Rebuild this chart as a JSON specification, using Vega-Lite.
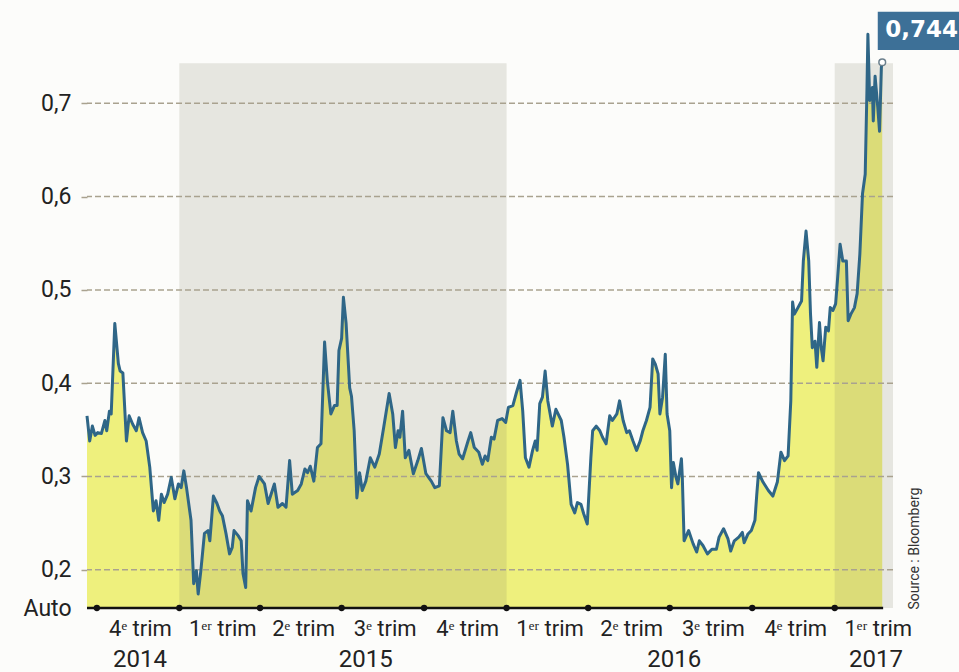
{
  "$schema": "https://vega.github.io/schema/vega-lite/v6.json",
  "width": 806,
  "height": 598,
  "autosize": {"type": "none"},
  "padding": {"left": 87, "top": 10, "right": 66, "bottom": 64},
  "background": "#fcfcfa",
  "config": {"view": {"stroke": null}, "font": "Roboto"},
  "datasets": {
    "series": [
      {"date": "2014-09-20", "value": 0.365}, {"date": "2014-09-23", "value": 0.338}, {"date": "2014-09-26", "value": 0.354}, {"date": "2014-09-29", "value": 0.344},
      {"date": "2014-10-02", "value": 0.347}, {"date": "2014-10-06", "value": 0.346}, {"date": "2014-10-10", "value": 0.360}, {"date": "2014-10-12", "value": 0.349},
      {"date": "2014-10-15", "value": 0.370}, {"date": "2014-10-17", "value": 0.367}, {"date": "2014-10-21", "value": 0.464}, {"date": "2014-10-25", "value": 0.421},
      {"date": "2014-10-27", "value": 0.413}, {"date": "2014-10-30", "value": 0.411}, {"date": "2014-11-03", "value": 0.338}, {"date": "2014-11-06", "value": 0.365},
      {"date": "2014-11-10", "value": 0.356}, {"date": "2014-11-14", "value": 0.349}, {"date": "2014-11-17", "value": 0.363}, {"date": "2014-11-21", "value": 0.347},
      {"date": "2014-11-25", "value": 0.338}, {"date": "2014-11-29", "value": 0.310}, {"date": "2014-12-03", "value": 0.263}, {"date": "2014-12-06", "value": 0.274},
      {"date": "2014-12-09", "value": 0.253}, {"date": "2014-12-12", "value": 0.281}, {"date": "2014-12-15", "value": 0.272}, {"date": "2014-12-19", "value": 0.281},
      {"date": "2014-12-23", "value": 0.299}, {"date": "2014-12-27", "value": 0.276}, {"date": "2014-12-31", "value": 0.292}, {"date": "2015-01-03", "value": 0.288},
      {"date": "2015-01-06", "value": 0.306}, {"date": "2015-01-09", "value": 0.288}, {"date": "2015-01-14", "value": 0.253}, {"date": "2015-01-17", "value": 0.185},
      {"date": "2015-01-20", "value": 0.199}, {"date": "2015-01-22", "value": 0.174}, {"date": "2015-01-25", "value": 0.199}, {"date": "2015-01-29", "value": 0.239},
      {"date": "2015-02-02", "value": 0.242}, {"date": "2015-02-04", "value": 0.231}, {"date": "2015-02-08", "value": 0.279}, {"date": "2015-02-12", "value": 0.271},
      {"date": "2015-02-15", "value": 0.263}, {"date": "2015-02-18", "value": 0.258}, {"date": "2015-02-22", "value": 0.239}, {"date": "2015-02-26", "value": 0.217},
      {"date": "2015-03-01", "value": 0.224}, {"date": "2015-03-03", "value": 0.242}, {"date": "2015-03-08", "value": 0.236}, {"date": "2015-03-11", "value": 0.231},
      {"date": "2015-03-13", "value": 0.196}, {"date": "2015-03-16", "value": 0.181}, {"date": "2015-03-18", "value": 0.274}, {"date": "2015-03-22", "value": 0.263},
      {"date": "2015-03-27", "value": 0.288}, {"date": "2015-03-31", "value": 0.300}, {"date": "2015-04-06", "value": 0.292}, {"date": "2015-04-10", "value": 0.271},
      {"date": "2015-04-17", "value": 0.292}, {"date": "2015-04-21", "value": 0.267}, {"date": "2015-04-26", "value": 0.271}, {"date": "2015-04-30", "value": 0.267},
      {"date": "2015-05-04", "value": 0.317}, {"date": "2015-05-07", "value": 0.281}, {"date": "2015-05-13", "value": 0.285}, {"date": "2015-05-17", "value": 0.292},
      {"date": "2015-05-21", "value": 0.308}, {"date": "2015-05-24", "value": 0.304}, {"date": "2015-05-27", "value": 0.311}, {"date": "2015-05-31", "value": 0.295},
      {"date": "2015-06-04", "value": 0.331}, {"date": "2015-06-08", "value": 0.335}, {"date": "2015-06-12", "value": 0.444}, {"date": "2015-06-15", "value": 0.403},
      {"date": "2015-06-19", "value": 0.367}, {"date": "2015-06-23", "value": 0.376}, {"date": "2015-06-26", "value": 0.376}, {"date": "2015-06-28", "value": 0.435},
      {"date": "2015-07-01", "value": 0.448}, {"date": "2015-07-03", "value": 0.492}, {"date": "2015-07-06", "value": 0.464}, {"date": "2015-07-10", "value": 0.395},
      {"date": "2015-07-12", "value": 0.386}, {"date": "2015-07-15", "value": 0.349}, {"date": "2015-07-18", "value": 0.277}, {"date": "2015-07-21", "value": 0.304},
      {"date": "2015-07-24", "value": 0.285}, {"date": "2015-07-28", "value": 0.295}, {"date": "2015-08-02", "value": 0.320}, {"date": "2015-08-07", "value": 0.310},
      {"date": "2015-08-12", "value": 0.324}, {"date": "2015-08-17", "value": 0.353}, {"date": "2015-08-23", "value": 0.389}, {"date": "2015-08-27", "value": 0.367},
      {"date": "2015-08-30", "value": 0.331}, {"date": "2015-09-02", "value": 0.349}, {"date": "2015-09-04", "value": 0.342}, {"date": "2015-09-07", "value": 0.370},
      {"date": "2015-09-10", "value": 0.320}, {"date": "2015-09-14", "value": 0.328}, {"date": "2015-09-19", "value": 0.303}, {"date": "2015-09-24", "value": 0.317},
      {"date": "2015-09-28", "value": 0.330}, {"date": "2015-10-03", "value": 0.303}, {"date": "2015-10-09", "value": 0.295}, {"date": "2015-10-13", "value": 0.288},
      {"date": "2015-10-18", "value": 0.290}, {"date": "2015-10-22", "value": 0.363}, {"date": "2015-10-26", "value": 0.349}, {"date": "2015-10-30", "value": 0.347},
      {"date": "2015-11-02", "value": 0.370}, {"date": "2015-11-06", "value": 0.338}, {"date": "2015-11-09", "value": 0.324}, {"date": "2015-11-13", "value": 0.319},
      {"date": "2015-11-19", "value": 0.338}, {"date": "2015-11-22", "value": 0.347}, {"date": "2015-11-26", "value": 0.331}, {"date": "2015-12-01", "value": 0.326},
      {"date": "2015-12-05", "value": 0.313}, {"date": "2015-12-08", "value": 0.322}, {"date": "2015-12-11", "value": 0.317}, {"date": "2015-12-15", "value": 0.342},
      {"date": "2015-12-18", "value": 0.340}, {"date": "2015-12-22", "value": 0.360}, {"date": "2015-12-27", "value": 0.362}, {"date": "2015-12-31", "value": 0.358},
      {"date": "2016-01-03", "value": 0.374}, {"date": "2016-01-08", "value": 0.376}, {"date": "2016-01-12", "value": 0.390}, {"date": "2016-01-16", "value": 0.403},
      {"date": "2016-01-19", "value": 0.370}, {"date": "2016-01-22", "value": 0.320}, {"date": "2016-01-26", "value": 0.310}, {"date": "2016-01-30", "value": 0.328},
      {"date": "2016-02-02", "value": 0.338}, {"date": "2016-02-04", "value": 0.328}, {"date": "2016-02-07", "value": 0.378}, {"date": "2016-02-10", "value": 0.385},
      {"date": "2016-02-13", "value": 0.413}, {"date": "2016-02-16", "value": 0.381}, {"date": "2016-02-21", "value": 0.354}, {"date": "2016-02-25", "value": 0.372},
      {"date": "2016-03-02", "value": 0.360}, {"date": "2016-03-05", "value": 0.342}, {"date": "2016-03-09", "value": 0.313}, {"date": "2016-03-13", "value": 0.270},
      {"date": "2016-03-17", "value": 0.261}, {"date": "2016-03-20", "value": 0.272}, {"date": "2016-03-24", "value": 0.270}, {"date": "2016-03-27", "value": 0.260},
      {"date": "2016-03-31", "value": 0.249}, {"date": "2016-04-04", "value": 0.320}, {"date": "2016-04-06", "value": 0.349}, {"date": "2016-04-10", "value": 0.354},
      {"date": "2016-04-14", "value": 0.349}, {"date": "2016-04-17", "value": 0.342}, {"date": "2016-04-21", "value": 0.335}, {"date": "2016-04-25", "value": 0.365},
      {"date": "2016-04-28", "value": 0.360}, {"date": "2016-05-03", "value": 0.367}, {"date": "2016-05-06", "value": 0.381}, {"date": "2016-05-10", "value": 0.360},
      {"date": "2016-05-14", "value": 0.347}, {"date": "2016-05-17", "value": 0.349}, {"date": "2016-05-21", "value": 0.338}, {"date": "2016-05-25", "value": 0.328},
      {"date": "2016-05-29", "value": 0.338}, {"date": "2016-06-01", "value": 0.349}, {"date": "2016-06-05", "value": 0.360}, {"date": "2016-06-09", "value": 0.374},
      {"date": "2016-06-12", "value": 0.426}, {"date": "2016-06-15", "value": 0.420}, {"date": "2016-06-18", "value": 0.410}, {"date": "2016-06-20", "value": 0.367},
      {"date": "2016-06-23", "value": 0.385}, {"date": "2016-06-26", "value": 0.431}, {"date": "2016-06-28", "value": 0.367}, {"date": "2016-07-01", "value": 0.349},
      {"date": "2016-07-03", "value": 0.288}, {"date": "2016-07-05", "value": 0.315}, {"date": "2016-07-08", "value": 0.299}, {"date": "2016-07-10", "value": 0.292},
      {"date": "2016-07-14", "value": 0.319}, {"date": "2016-07-15", "value": 0.299}, {"date": "2016-07-17", "value": 0.231}, {"date": "2016-07-22", "value": 0.242},
      {"date": "2016-07-27", "value": 0.228}, {"date": "2016-07-31", "value": 0.219}, {"date": "2016-08-03", "value": 0.231}, {"date": "2016-08-07", "value": 0.226},
      {"date": "2016-08-12", "value": 0.217}, {"date": "2016-08-17", "value": 0.222}, {"date": "2016-08-22", "value": 0.222}, {"date": "2016-08-25", "value": 0.235},
      {"date": "2016-08-30", "value": 0.244}, {"date": "2016-09-04", "value": 0.233}, {"date": "2016-09-07", "value": 0.220}, {"date": "2016-09-11", "value": 0.231},
      {"date": "2016-09-16", "value": 0.235}, {"date": "2016-09-20", "value": 0.240}, {"date": "2016-09-22", "value": 0.229}, {"date": "2016-09-26", "value": 0.238},
      {"date": "2016-09-30", "value": 0.242}, {"date": "2016-10-04", "value": 0.253}, {"date": "2016-10-06", "value": 0.280}, {"date": "2016-10-08", "value": 0.304},
      {"date": "2016-10-13", "value": 0.294}, {"date": "2016-10-19", "value": 0.285}, {"date": "2016-10-24", "value": 0.279}, {"date": "2016-10-29", "value": 0.294},
      {"date": "2016-11-02", "value": 0.326}, {"date": "2016-11-06", "value": 0.317}, {"date": "2016-11-10", "value": 0.322}, {"date": "2016-11-13", "value": 0.381},
      {"date": "2016-11-15", "value": 0.487}, {"date": "2016-11-17", "value": 0.474}, {"date": "2016-11-21", "value": 0.481}, {"date": "2016-11-25", "value": 0.488},
      {"date": "2016-11-27", "value": 0.531}, {"date": "2016-11-30", "value": 0.563}, {"date": "2016-12-03", "value": 0.531}, {"date": "2016-12-05", "value": 0.474},
      {"date": "2016-12-07", "value": 0.438}, {"date": "2016-12-10", "value": 0.445}, {"date": "2016-12-12", "value": 0.417}, {"date": "2016-12-15", "value": 0.465},
      {"date": "2016-12-17", "value": 0.438}, {"date": "2016-12-19", "value": 0.424}, {"date": "2016-12-22", "value": 0.460}, {"date": "2016-12-25", "value": 0.456},
      {"date": "2016-12-27", "value": 0.481}, {"date": "2016-12-30", "value": 0.478}, {"date": "2017-01-02", "value": 0.485}, {"date": "2017-01-04", "value": 0.510},
      {"date": "2017-01-07", "value": 0.549}, {"date": "2017-01-10", "value": 0.531}, {"date": "2017-01-14", "value": 0.531}, {"date": "2017-01-16", "value": 0.467},
      {"date": "2017-01-19", "value": 0.474}, {"date": "2017-01-23", "value": 0.481}, {"date": "2017-01-26", "value": 0.496}, {"date": "2017-01-29", "value": 0.538},
      {"date": "2017-02-01", "value": 0.603}, {"date": "2017-02-04", "value": 0.624}, {"date": "2017-02-06", "value": 0.717}, {"date": "2017-02-07", "value": 0.774},
      {"date": "2017-02-09", "value": 0.703}, {"date": "2017-02-12", "value": 0.717}, {"date": "2017-02-13", "value": 0.681}, {"date": "2017-02-15", "value": 0.729},
      {"date": "2017-02-18", "value": 0.696}, {"date": "2017-02-20", "value": 0.670}, {"date": "2017-02-22", "value": 0.738}, {"date": "2017-02-23", "value": 0.744}
    ],
    "periods": [
      {"start": "2015-01-01", "end": "2016-01-01"},
      {"start": "2017-01-01", "end": "2017-03-07"}
    ],
    "grid": [{"v": 0.2}, {"v": 0.3}, {"v": 0.4}, {"v": 0.5}, {"v": 0.6}, {"v": 0.7}],
    "baseline": [{"from": "2014-09-20", "to": "2017-02-24"}],
    "quarters": [
      {"date": "2014-10-01"}, {"date": "2015-01-01"}, {"date": "2015-04-01"}, {"date": "2015-07-01"}, {"date": "2015-10-01"},
      {"date": "2016-01-01"}, {"date": "2016-04-01"}, {"date": "2016-07-01"}, {"date": "2016-10-01"}, {"date": "2017-01-01"}
    ],
    "years": [
      {"date": "2014-11-18", "year": "2014"},
      {"date": "2015-07-28", "year": "2015"},
      {"date": "2016-07-06", "year": "2016"},
      {"date": "2017-02-16", "year": "2017"}
    ],
    "last": [{"date": "2017-02-23", "value": 0.744, "label": "0,744"}],
    "notes": [{"text": "Source : Bloomberg"}]
  },
  "layer": [
    {
      "data": {"name": "series"},
      "mark": {"type": "area", "color": "#eef07d"},
      "encoding": {
        "x": {
          "field": "date", "type": "temporal", "title": null,
          "scale": {"type": "utc", "nice": false, "domain": [{"year": 2014, "month": 9, "date": 20, "utc": true}, {"year": 2017, "month": 3, "date": 7, "utc": true}]},
          "axis": {
            "title": null, "domain": false, "ticks": false, "grid": false,
            "values": [
              {"year": 2014, "month": 11, "date": 18, "utc": true}, {"year": 2015, "month": 2, "date": 18, "utc": true},
              {"year": 2015, "month": 5, "date": 19, "utc": true}, {"year": 2015, "month": 8, "date": 18, "utc": true},
              {"year": 2015, "month": 11, "date": 18, "utc": true}, {"year": 2016, "month": 2, "date": 18, "utc": true},
              {"year": 2016, "month": 5, "date": 19, "utc": true}, {"year": 2016, "month": 8, "date": 18, "utc": true},
              {"year": 2016, "month": 11, "date": 18, "utc": true}, {"year": 2017, "month": 2, "date": 18, "utc": true}
            ],
            "labelExpr": "utcmonth(datum.value) == 10 ? '4ᵉ trim' : utcmonth(datum.value) == 1 ? '1ᵉʳ trim' : utcmonth(datum.value) == 4 ? '2ᵉ trim' : '3ᵉ trim'",
            "labelFontSize": 22, "labelColor": "#222", "labelPadding": 10, "labelFlush": false, "labelOverlap": false, "labelBaseline": "top"
          }
        },
        "y": {
          "field": "value", "type": "quantitative", "title": null,
          "scale": {"domain": [0.159, 0.8], "zero": false, "nice": false},
          "axis": {
            "title": null, "domain": false, "grid": false,
            "values": [0.159, 0.2, 0.3, 0.4, 0.5, 0.6, 0.7],
            "labelExpr": "datum.value < 0.19 ? 'Auto' : replace(format(datum.value, '.1f'), '.', ',')",
            "tickSize": 8, "tickColor": "#a9a28f", "tickDash": [6, 3], "tickWidth": 1.5,
            "tickOpacity": {"condition": {"test": "datum.value < 0.19", "value": 0}, "value": 1},
            "labelFontSize": 23, "labelColor": "#222", "labelPadding": 8, "labelOverlap": false, "labelBaseline": "middle"
          }
        },
        "y2": {"datum": 0.159}
      }
    },
    {
      "data": {"name": "periods"},
      "mark": {"type": "rect", "color": "#7a7a60", "opacity": 0.17},
      "encoding": {
        "x": {"field": "start", "type": "temporal", "title": null},
        "x2": {"field": "end"},
        "y": {"datum": 0.159},
        "y2": {"datum": 0.743}
      }
    },
    {
      "data": {"name": "grid"},
      "mark": {"type": "rule", "color": "#a9a28f", "strokeDash": [6, 3], "strokeWidth": 1.5},
      "encoding": {"y": {"field": "v", "type": "quantitative", "title": null}}
    },
    {
      "data": {"name": "series"},
      "mark": {"type": "line", "color": "#2f6687", "strokeWidth": 3, "strokeJoin": "round"},
      "encoding": {
        "x": {"field": "date", "type": "temporal", "title": null},
        "y": {"field": "value", "type": "quantitative", "title": null}
      }
    },
    {
      "data": {"name": "baseline"},
      "mark": {"type": "rule", "color": "#111", "strokeWidth": 2.5},
      "encoding": {
        "x": {"field": "from", "type": "temporal", "title": null},
        "x2": {"field": "to"},
        "y": {"datum": 0.159}
      }
    },
    {
      "data": {"name": "quarters"},
      "mark": {"type": "circle", "color": "#111", "size": 40, "opacity": 1},
      "encoding": {
        "x": {"field": "date", "type": "temporal", "title": null},
        "y": {"datum": 0.159}
      }
    },
    {
      "data": {"name": "last"},
      "mark": {"type": "circle", "fill": "#ffffff", "stroke": "#6b7f8c", "strokeWidth": 1.5, "size": 45, "opacity": 1},
      "encoding": {
        "x": {"field": "date", "type": "temporal", "title": null},
        "y": {"field": "value", "type": "quantitative", "title": null}
      }
    },
    {
      "data": {"name": "last"},
      "mark": {"type": "rect", "color": "#3d7097"},
      "encoding": {
        "x": {"datum": {"year": 2017, "month": 2, "date": 18, "utc": true}},
        "x2": {"datum": {"year": 2017, "month": 5, "date": 30, "utc": true}},
        "y": {"datum": 0.757},
        "y2": {"datum": 0.798}
      }
    },
    {
      "data": {"name": "last"},
      "mark": {"type": "text", "color": "#ffffff", "font": "DejaVu Sans", "fontSize": 23, "fontWeight": "bold", "align": "left", "baseline": "middle", "dx": 3},
      "encoding": {
        "x": {"field": "date", "type": "temporal", "title": null},
        "y": {"datum": 0.7785},
        "text": {"field": "label"}
      }
    },
    {
      "data": {"name": "years"},
      "mark": {"type": "text", "color": "#222", "fontSize": 24, "baseline": "middle", "align": "center"},
      "encoding": {
        "x": {"field": "date", "type": "temporal", "title": null},
        "y": {"datum": 0.103},
        "text": {"field": "year"}
      }
    },
    {
      "data": {"name": "notes"},
      "mark": {"type": "text", "color": "#333", "fontSize": 14, "angle": 270, "align": "center", "baseline": "middle"},
      "encoding": {
        "x": {"datum": {"year": 2017, "month": 3, "date": 31, "utc": true}},
        "y": {"datum": 0.2227},
        "text": {"field": "text"}
      }
    }
  ]
}
